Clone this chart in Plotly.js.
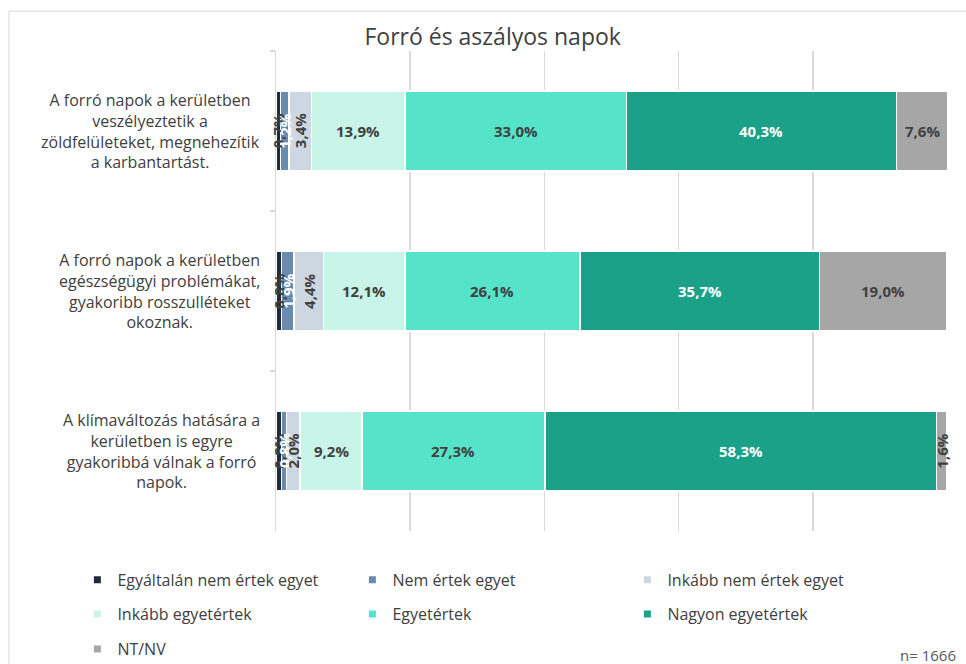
<!DOCTYPE html>
<html>
<head>
<meta charset="utf-8">
<script src="https://cdn.plot.ly/plotly-3.0.1.min.js"></script>
<style>html,body{margin:0;padding:0;background:#fff;}#chart{width:966px;height:664px;}</style>
</head>
<body>
<div id="chart"></div>
<script>
const categories = [
  "A forró napok a kerületben<br>veszélyeztetik a<br>zöldfelületeket, megnehezítik<br>a karbantartást.",
  "A forró napok a kerületben<br>egészségügyi problémákat,<br>gyakoribb rosszulléteket<br>okoznak.",
  "A klímaváltozás hatására a<br>kerületben is egyre<br>gyakoribbá válnak a forró<br>napok."
];
const seriesNames = ["Egyáltalán nem értek egyet","Nem értek egyet","Inkább nem értek egyet","Inkább egyetértek","Egyetértek","Nagyon egyetértek","NT/NV"];
const egyaltalanNem = [0.7, 0.8, 0.8];
const nemErtek = [1.2, 1.9, 0.8];
const inkabbNem = [3.4, 4.4, 2.0];
const inkabbEgyet = [13.9, 12.1, 9.2];
const egyetertek = [33.0, 26.1, 27.3];
const nagyonEgyet = [40.3, 35.7, 58.3];
const ntnv = [7.6, 19.0, 1.6];
const seriesValues = [egyaltalanNem, nemErtek, inkabbNem, inkabbEgyet, egyetertek, nagyonEgyet, ntnv];
const colors = ["#1f2b3a","#6a8bb0","#cdd7e2","#c9f5e9","#55e3c9","#1ba187","#a6a6a6"];
const labelColors = ["#404040","#ffffff","#404040","#404040","#404040","#ffffff","#404040"];
const legendIds = ["legend","legend","legend","legend2","legend2","legend2","legend3"];

const FONT = "Open Sans, sans-serif";
const traces = seriesValues.map((vals, i) => ({
  type: "bar",
  orientation: "h",
  name: seriesNames[i],
  y: categories,
  x: vals,
  marker: {color: colors[i], line: {color: "#ffffff", width: 1.5}},
  textposition: "none",
  hoverinfo: "x+name",
  showlegend: false
}));
// legend-only entries with small square markers
seriesNames.forEach((n, i) => {
  traces.push({
    type: "scatter", mode: "markers", name: n,
    x: [null], y: [null],
    marker: {symbol: "square", size: 7, color: colors[i]},
    showlegend: true, legend: legendIds[i], hoverinfo: "skip"
  });
});

const annotations = [];
categories.forEach((c, ci) => {
  let cum = 0;
  seriesValues.forEach((vals, si) => {
    const v = vals[ci];
    const center = cum + v / 2;
    cum += v;
    annotations.push({
      x: center, y: c, xref: "x", yref: "y",
      text: "<b>" + v.toFixed(1).replace(".", ",") + "%</b>",
      showarrow: false,
      textangle: v < 5 ? -90 : 0,
      font: {family: FONT, size: 15, color: labelColors[si]}
    });
  });
  annotations.push({
    x: -0.021, xref: "paper", y: c, yref: "y",
    xanchor: "right", align: "center", showarrow: false,
    text: c,
    font: {family: FONT, size: 16, color: "#404040"}
  });
});
annotations.push({
  x: 1.016, xref: "paper", y: -0.258, yref: "paper",
  xanchor: "right", yanchor: "middle", showarrow: false,
  text: "n= 1666",
  font: {family: FONT, size: 15, color: "#595959"}
});

const legendBase = {
  orientation: "h", xref: "paper", yref: "paper",
  x: -0.296, xanchor: "left", yanchor: "middle",
  entrywidth: 230, entrywidthmode: "pixels",
  font: {family: FONT, size: 16, color: "#404040"},
  bgcolor: "rgba(0,0,0,0)", traceorder: "normal"
};

const layout = {
  width: 966, height: 664,
  margin: {l: 276, r: 19, t: 51, b: 133, autoexpand: false},
  paper_bgcolor: "#ffffff", plot_bgcolor: "#ffffff",
  barmode: "stack", bargap: 0.5,
  title: {text: "Forró és aszályos napok", x: 0.51, xref: "container", y: 0.944, yref: "container", yanchor: "middle",
          font: {family: FONT, size: 23, color: "#404040"}},
  xaxis: {range: [0, 100], dtick: 20, showticklabels: false, showgrid: true, gridcolor: "#d9d9d9", gridwidth: 1.5, zeroline: false, fixedrange: true},
  yaxis: {autorange: "reversed", showticklabels: false, showline: true, linecolor: "#d9d9d9", linewidth: 1.5,
          ticks: "outside", tickson: "boundaries", ticklen: 5, tickcolor: "#d9d9d9", tickwidth: 1.5, showgrid: false},
  legend: Object.assign({}, legendBase, {y: -0.102}),
  legend2: Object.assign({}, legendBase, {y: -0.173}),
  legend3: Object.assign({}, legendBase, {y: -0.246}),
  annotations: annotations,
  shapes: [{type: "rect", xref: "paper", yref: "paper", x0: -0.398, x1: 1.2, y0: 1.083, y1: -0.6,
            line: {color: "#d9d9d9", width: 1}, fillcolor: "rgba(0,0,0,0)", layer: "below"}],
  showlegend: true
};

Plotly.newPlot("chart", traces, layout, {displayModeBar: false, staticPlot: true});
</script>
</body>
</html>
